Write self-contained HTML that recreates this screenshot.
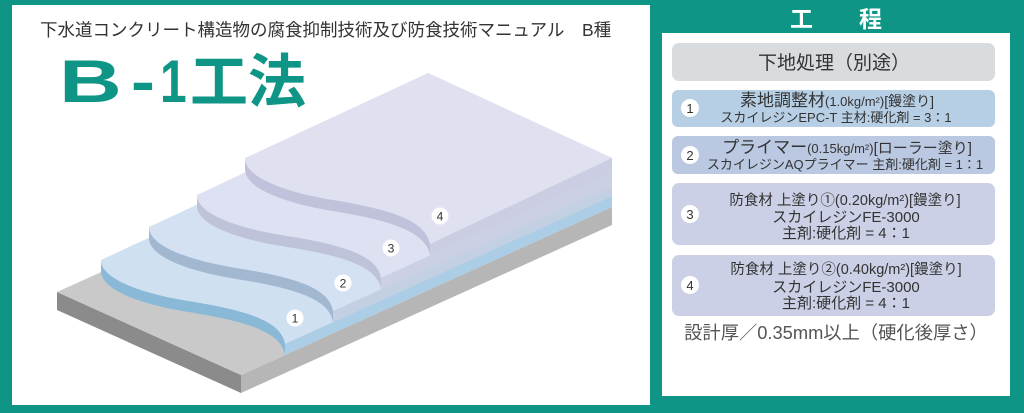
<!DOCTYPE html>
<html><head><meta charset="utf-8"><style>
html,body{margin:0;padding:0;background:#0e9585;}
svg{display:block}
text{font-family:"Liberation Sans","Noto Sans CJK JP",sans-serif;}
</style></head><body>
<svg width="1024" height="413" viewBox="0 0 1024 413" xmlns="http://www.w3.org/2000/svg">
<rect x="0" y="0" width="1024" height="413" fill="#0e9585"/>
<rect x="12" y="5" width="638" height="400" fill="#ffffff"/>
<rect x="662" y="33" width="348" height="363" fill="#ffffff"/>
<text x="836" y="27" font-size="23" font-weight="bold" fill="#fff" text-anchor="middle">工　　程</text>

<!-- title -->
<text x="40" y="36" font-size="17.5" fill="#333">下水道コンクリート構造物の腐食抑制技術及び防食技術マニュアル　B種</text>
<g fill="#0e9585" font-weight="bold" font-size="60">
<text x="59" y="102" transform="translate(59 0) scale(1.45 1) translate(-59 0)">B</text>
<text x="131" y="102" transform="translate(131 0) scale(1.2 1) translate(-131 0)">-</text>
<text x="160" y="102" transform="translate(160 0) scale(0.8 1) translate(-160 0)">1</text>
<text x="190" y="102" font-size="58">工法</text>
</g>

<!-- slab -->
<polygon points="57,292 241,375 241,393 57,310" fill="#8b8b8b"/>
<polygon points="241,375 612,207 612,225 241,393" fill="#b6b6b6"/>
<polygon points="57,292 241,375 612,207 428,124" fill="#c9c9c9"/>

<!-- layer 1 -->
<path d="M101,260 C101,279.1 141,293.4 189,301.1 C241,309.7 281,319.2 285,344 L612,196 L612,158 L428,73 L284,175 Z" fill="#cfe1f1"/>
<path d="M101,260 C101,279.1 141,293.4 189,301.1 C241,309.7 281,319.2 285,344 L285,355 C281,330.2 241,320.7 189,312.1 C141,304.4 101,290.1 101,271 Z" fill="#8ab9d7"/>
<polygon points="285,344 612,196 612,207 285,355" fill="#abcde5"/>

<!-- layer 2 -->
<path d="M149,227 C149,246.1 189,260.4 237,268.1 C289,276.7 329,286.2 333,311 L612,186 L612,158 L428,73 L332,142 Z" fill="#d4e1f3"/>
<path d="M149,227 C149,246.1 189,260.4 237,268.1 C289,276.7 329,286.2 333,311 L333,322 C329,297.2 289,287.7 237,279.1 C189,271.4 149,257.1 149,238 Z" fill="#a2b8d1"/>
<polygon points="333,311 612,186 612,196 333,322.3" fill="#c3d0e3"/>

<!-- layer 3 -->
<path d="M197,195 C197,213.9 237,228 285,235.6 C337,244 377,253.5 381,278 L612,172 L612,158 L428,73 L380,109 Z" fill="#dde1f1"/>
<path d="M197,195 C197,213.9 237,228 285,235.6 C337,244 377,253.5 381,278 L381,289 C377,264.5 337,255 285,246.6 C237,239 197,224.9 197,206 Z" fill="#bfc3da"/>
<polygon points="381,278 612,172 612,186 381,289.5" fill="#ccd0e5"/>

<!-- layer 4 -->
<path d="M245,158 C245,177.5 285,192.2 333,200 C385,208.8 425,218.6 430,244 L612,158 L428,73 Z" fill="#dfe1f1"/>
<path d="M245,158 C245,177.5 285,192.2 333,200 C385,208.8 425,218.6 430,244 L430,255 C425,229.6 385,219.8 333,211 C285,203.2 245,188.5 245,169 Z" fill="#c0c1da"/>
<polygon points="430,244 612,158 612,172 430,255.5" fill="#cbcde3"/>

<!-- number markers -->
<g font-size="12" fill="#333" text-anchor="middle">
<circle cx="295" cy="318" r="8.5" fill="#fff"/><text x="295" y="322.5">1</text>
<circle cx="343" cy="283" r="8.5" fill="#fff"/><text x="343" y="287.5">2</text>
<circle cx="391" cy="248" r="8.5" fill="#fff"/><text x="391" y="252.5">3</text>
<circle cx="440" cy="216" r="8.5" fill="#fff"/><text x="440" y="220.5">4</text>
</g>

<!-- right boxes -->
<rect x="672" y="43" width="323" height="38" rx="7" fill="#d9dcde"/>
<text x="834" y="69" font-size="19" fill="#333" text-anchor="middle">下地処理（別途）</text>

<rect x="672" y="90" width="323" height="37" rx="6" fill="#b7cfe4"/>
<circle cx="690" cy="108" r="9" fill="#fff"/>
<text x="690" y="113" font-size="13" fill="#333" text-anchor="middle">1</text>
<text x="837" y="106" font-size="17" fill="#333" text-anchor="middle">素地調整材<tspan font-size="13">(1.0kg/m²)</tspan><tspan font-size="14">[鏝塗り]</tspan></text>
<text x="836" y="122" font-size="13" fill="#333" text-anchor="middle">スカイレジンEPC-T 主材:硬化剤 = 3：1</text>

<rect x="672" y="136" width="323" height="38" rx="6" fill="#bac9e1"/>
<circle cx="690" cy="155" r="9" fill="#fff"/>
<text x="690" y="160" font-size="13" fill="#333" text-anchor="middle">2</text>
<text x="847" y="153" font-size="17" fill="#333" text-anchor="middle">プライマー<tspan font-size="13">(0.15kg/m²)</tspan><tspan font-size="15">[ローラー塗り]</tspan></text>
<text x="845" y="169" font-size="13" fill="#333" text-anchor="middle">スカイレジンAQプライマー 主剤:硬化剤 = 1：1</text>

<rect x="672" y="183" width="323" height="62" rx="7" fill="#ccd0e6"/>
<circle cx="690" cy="214" r="9" fill="#fff"/>
<text x="690" y="219" font-size="13" fill="#333" text-anchor="middle">3</text>
<text x="845" y="205" font-size="14.5" fill="#333" text-anchor="middle">防食材 上塗り①(0.20kg/m²)[鏝塗り]</text>
<text x="846" y="222" font-size="15" fill="#333" text-anchor="middle">スカイレジンFE-3000</text>
<text x="846" y="238" font-size="15" fill="#333" text-anchor="middle">主剤:硬化剤 = 4：1</text>

<rect x="672" y="255" width="323" height="61" rx="7" fill="#ccd0e6"/>
<circle cx="690" cy="285" r="9" fill="#fff"/>
<text x="690" y="290" font-size="13" fill="#333" text-anchor="middle">4</text>
<text x="846" y="274" font-size="14.5" fill="#333" text-anchor="middle">防食材 上塗り②(0.40kg/m²)[鏝塗り]</text>
<text x="846" y="292" font-size="15" fill="#333" text-anchor="middle">スカイレジンFE-3000</text>
<text x="846" y="308" font-size="15" fill="#333" text-anchor="middle">主剤:硬化剤 = 4：1</text>

<text x="836" y="339" font-size="18.3" fill="#555" text-anchor="middle">設計厚／0.35mm以上（硬化後厚さ）</text>
</svg>
</body></html>
